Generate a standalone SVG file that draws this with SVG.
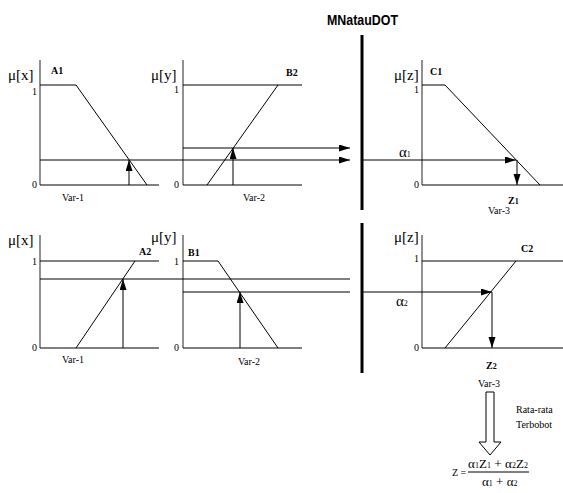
<svg xmlns="http://www.w3.org/2000/svg" width="563" height="493" viewBox="0 0 563 493">
<style>
.ax{stroke:#555;stroke-width:1.3;fill:none}
.ln{stroke:#000;stroke-width:1;fill:none}
.t{font-family:"Liberation Serif",serif;font-size:10px;fill:#000}
.mu{font-family:"Liberation Serif",serif;font-size:15px;fill:#000}
.b{font-family:"Liberation Serif",serif;font-size:10px;font-weight:bold;fill:#000}
.al{font-family:"Liberation Serif",serif;font-size:15px;fill:#000}
.fm{font-family:"Liberation Serif",serif;font-size:13px;fill:#000}
.sm{font-size:8px}
.ar{stroke:#000;stroke-width:1;fill:none;marker-end:url(#ah)}
.thick{stroke:#000;stroke-width:3;fill:none}
</style>
<defs>
<marker id="ah" markerUnits="userSpaceOnUse" markerWidth="11" markerHeight="8" refX="11" refY="3.5" orient="auto">
<path d="M0,0 L11,3.5 L0,7 z" fill="#000"/>
</marker>
</defs>
<rect width="563" height="493" fill="#fff"/>

<text x="327" y="25" font-family="Liberation Sans,Arial,sans-serif" font-size="15" font-weight="bold" textLength="71" lengthAdjust="spacingAndGlyphs">MNatauDOT</text>

<g id="divider">
<line class="thick" x1="362" y1="35" x2="362" y2="210"/>
<line class="thick" x1="362" y1="223" x2="362" y2="373"/>
</g>

<g id="A1">
<line class="ax" x1="40" y1="60" x2="40" y2="185"/>
<line class="ln" x1="40" y1="185" x2="159" y2="185"/>
<polyline class="ln" points="40,85 76,85 147,185"/>
<text class="mu" x="8" y="80">μ[x]</text>
<text class="b" x="51" y="74">A1</text>
<text class="t" x="32" y="95">1</text>
<text class="t" x="32" y="188">0</text>
<text class="t" x="62" y="201">Var-1</text>
<line class="ar" x1="129" y1="185" x2="129" y2="160"/>
</g>

<g id="B2">
<line class="ax" x1="183" y1="60" x2="183" y2="185"/>
<line class="ln" x1="183" y1="185" x2="302" y2="185"/>
<line class="ln" x1="183" y1="85" x2="302" y2="85"/>
<line class="ln" x1="207" y1="185" x2="278" y2="85"/>
<text class="mu" x="151" y="80">μ[y]</text>
<text class="b" x="286" y="76">B2</text>
<text class="t" x="174" y="93">1</text>
<text class="t" x="174" y="188">0</text>
<text class="t" x="243" y="201">Var-2</text>
<line class="ar" x1="233" y1="185" x2="233" y2="148"/>
</g>

<g id="C1">
<line class="ax" x1="422" y1="60" x2="422" y2="185"/>
<line class="ln" x1="422" y1="185" x2="563" y2="185"/>
<polyline class="ln" points="422,85 445,85 540,185"/>
<text class="mu" x="394" y="80">μ[z]</text>
<text class="b" x="430" y="75">C1</text>
<text class="t" x="414" y="93">1</text>
<text class="t" x="414" y="188">0</text>
<text class="al" x="399" y="157">α<tspan class="sm">1</tspan></text>
<text class="b" x="508" y="204">Z<tspan class="sm">1</tspan></text>
<text class="t" x="488" y="214">Var-3</text>
<line class="ar" x1="517" y1="160" x2="517" y2="185"/>
</g>

<g id="A2">
<line class="ax" x1="40" y1="235" x2="40" y2="348"/>
<line class="ln" x1="40" y1="348" x2="159" y2="348"/>
<line class="ln" x1="40" y1="261" x2="159" y2="261"/>
<line class="ln" x1="76" y1="348" x2="135" y2="261"/>
<text class="mu" x="8" y="245">μ[x]</text>
<text class="b" x="139" y="255">A2</text>
<text class="t" x="32" y="265">1</text>
<text class="t" x="32" y="351">0</text>
<text class="t" x="62" y="363">Var-1</text>
<line class="ar" x1="123" y1="348" x2="123" y2="279"/>
</g>

<g id="B1">
<line class="ax" x1="183" y1="235" x2="183" y2="348"/>
<line class="ln" x1="183" y1="348" x2="302" y2="348"/>
<polyline class="ln" points="183,261 218,261 278,348"/>
<text class="mu" x="151" y="242">μ[y]</text>
<text class="b" x="188" y="256">B1</text>
<text class="t" x="174" y="265">1</text>
<text class="t" x="174" y="351">0</text>
<text class="t" x="238" y="365">Var-2</text>
<line class="ar" x1="240" y1="348" x2="240" y2="292"/>
</g>

<g id="C2">
<line class="ax" x1="422" y1="235" x2="422" y2="348"/>
<line class="ln" x1="422" y1="348" x2="563" y2="348"/>
<line class="ln" x1="422" y1="261" x2="563" y2="261"/>
<line class="ln" x1="445" y1="348" x2="516" y2="261"/>
<text class="mu" x="394" y="242">μ[z]</text>
<text class="b" x="521" y="252">C2</text>
<text class="t" x="414" y="262">1</text>
<text class="t" x="414" y="351">0</text>
<text class="al" x="396" y="306">α<tspan class="sm">2</tspan></text>
<text class="b" x="486" y="369">Z<tspan class="sm">2</tspan></text>
<text class="t" x="478" y="387">Var-3</text>
<line class="ar" x1="492" y1="292" x2="492" y2="348"/>
</g>

<g id="connectors">
<line class="ar" x1="40" y1="160" x2="350" y2="160"/>
<line class="ar" x1="183" y1="148" x2="350" y2="148"/>
<line class="ar" x1="362" y1="160" x2="516" y2="160"/>
<line class="ln" x1="40" y1="279" x2="350" y2="279"/>
<line class="ln" x1="183" y1="292" x2="350" y2="292"/>
<line class="ar" x1="362" y1="292" x2="492" y2="292"/>
</g>

<g id="aggregate">
<path d="M486,392 L494,392 L494,442 L501,442 L490,455 L479,442 L486,442 Z" fill="#fff" stroke="#000" stroke-width="1"/>
<text class="t" x="516" y="413">Rata-rata</text>
<text class="t" x="516" y="428">Terbobot</text>
</g>

<g id="formula">
<text class="t" x="452" y="476">Z =</text>
<text class="fm" x="468" y="468" textLength="60">α<tspan class="sm">1</tspan>Z<tspan class="sm">1</tspan> + α<tspan class="sm">2</tspan>Z<tspan class="sm">2</tspan></text>
<line class="ln" x1="468" y1="472" x2="529" y2="472"/>
<text class="fm" x="482" y="486">α<tspan class="sm">1</tspan> + α<tspan class="sm">2</tspan></text>
</g>
</svg>
